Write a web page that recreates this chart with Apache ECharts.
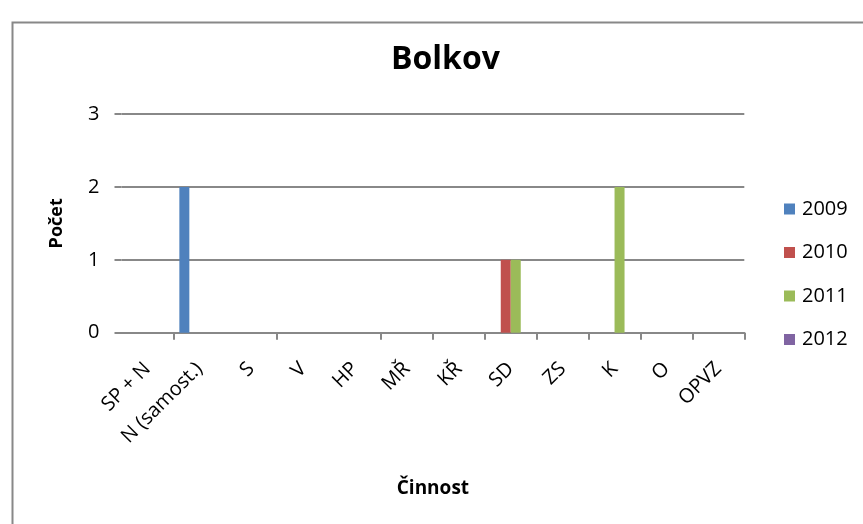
<!DOCTYPE html>
<html>
<head>
<meta charset="utf-8">
<script src="https://cdn.jsdelivr.net/npm/echarts@6/dist/echarts.min.js"></script>
<style>html,body{margin:0;padding:0;background:#fff}#c{width:863px;height:524px}</style>
</head>
<body>
<div id="c"></div>
<script>
const categories = ["SP + N", "N (samost.)", "S", "V", "HP", "MŘ", "KŘ", "SD", "ZS", "K", "O", "OPVZ"];
const years = ["2009", "2010", "2011", "2012"];
const v2009 = [0, 2, 0, 0, 0, 0, 0, 0, 0, 0, 0, 0];
const v2010 = [0, 0, 0, 0, 0, 0, 0, 1, 0, 0, 0, 0];
const v2011 = [0, 0, 0, 0, 0, 0, 0, 1, 0, 2, 0, 0];
const v2012 = [0, 0, 0, 0, 0, 0, 0, 0, 0, 0, 0, 0];
const yTicks = [0, 1, 2, 3];
const colors = ["#4F81BD", "#C0504D", "#9BBB59", "#8064A2"];

const FONT = "Open Sans";
const GRAY = "#888888";
const allValues = [v2009, v2010, v2011, v2012];

const chart = echarts.init(document.getElementById('c'), null, {renderer: 'canvas'});
chart.setOption({
  animation: false,
  color: colors,
  textStyle: {fontFamily: FONT},
  graphic: [{
    type: 'rect', left: 10, top: 20, silent: true,
    shape: {x: 0, y: 0, width: 900, height: 600},
    style: {fill: 'none', stroke: GRAY, lineWidth: 2}
  }],
  title: {
    text: 'Bolkov', left: 386, top: 39,
    textStyle: {fontFamily: FONT, fontSize: 32, fontWeight: 'bold', color: '#000'}
  },
  legend: {
    orient: 'vertical', left: 779, top: 194,
    itemWidth: 11, itemHeight: 11, itemGap: 23.5,
    icon: 'rect',
    data: years,
    textStyle: {fontFamily: FONT, fontSize: 20, color: '#000', lineHeight: 20, padding: [0, 0, 0, 2]}
  },
  grid: {left: 121.5, right: 118.7, top: 114, bottom: 191.3},
  xAxis: {
    type: 'category', data: categories,
    name: 'Činnost', nameLocation: 'middle', nameGap: 146,
    nameTextStyle: {fontFamily: FONT, fontSize: 19, fontWeight: 'bold', color: '#000'},
    axisLine: {show: true, lineStyle: {color: GRAY, width: 2}},
    axisTick: {show: true, length: 7, lineStyle: {color: GRAY, width: 2},
      interval: function (i) { return !(i === 0 || i === 2 || i === 4); }},
    axisLabel: {rotate: 45, margin: 33, interval: 0, fontFamily: FONT, fontSize: 20, color: '#000'}
  },
  yAxis: {
    type: 'value', min: 0, max: 3, interval: 1,
    name: 'Počet', nameLocation: 'middle', nameGap: 56,
    nameTextStyle: {fontFamily: FONT, fontSize: 18, fontWeight: 'bold', color: '#000'},
    axisLine: {show: false},
    axisTick: {show: true, length: 7, lineStyle: {color: GRAY, width: 2}},
    splitLine: {show: true, lineStyle: {color: GRAY, width: 2}},
    axisLabel: {margin: 22, fontFamily: FONT, fontSize: 20, color: '#000',
      formatter: function (v) { return yTicks.indexOf(v) >= 0 ? String(v) : ''; }}
  },
  series: years.map(function (y, i) {
    return {name: y, type: 'bar', data: allValues[i], barWidth: 10, barGap: '0%'};
  })
});
</script>
</body>
</html>
